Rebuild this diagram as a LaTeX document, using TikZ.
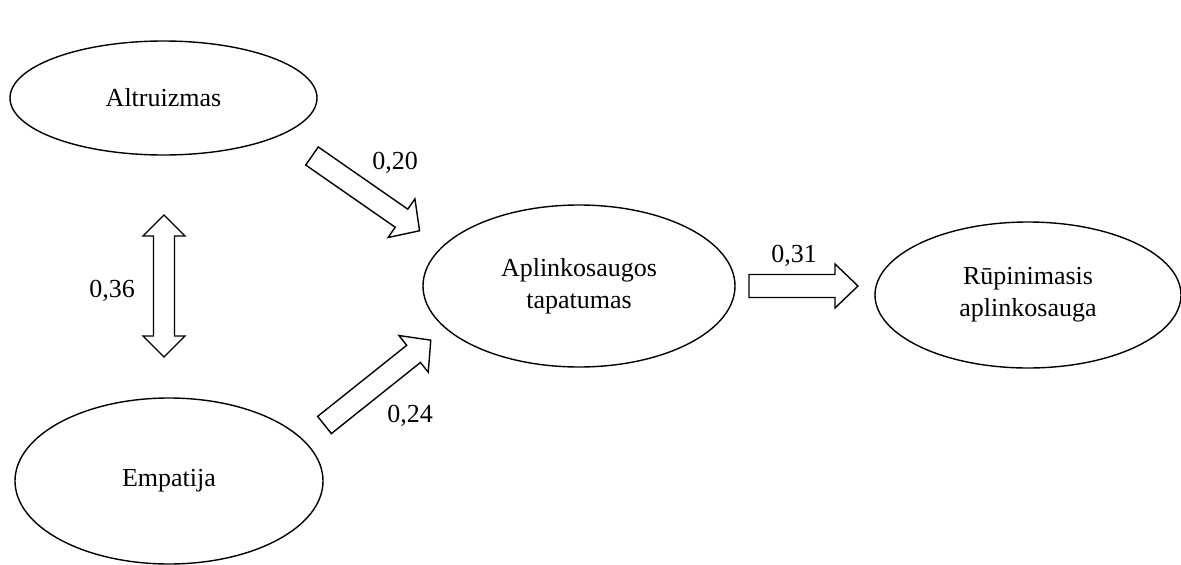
\documentclass[tikz,border=0pt]{standalone}
\usepackage{fontspec}
\setmainfont{Liberation Serif}
\usetikzlibrary{shapes.geometric}
\tikzset{
  ell/.style={draw, line width=1.4pt, ellipse, inner sep=0pt, align=center,
    font=\fontsize{26}{32}\selectfont},
  lbl/.style={inner sep=0pt, font=\fontsize{26}{31}\selectfont},
  arrowline/.style={draw, line width=1.4pt, fill=white, line join=miter},
  pics/fatarrow/.style args={#1/#2/#3/#4}{code={
    \path[arrowline] (0,-#2) -- ({#1-#4},-#2) -- ({#1-#4},-#3) -- (#1,0)
      -- ({#1-#4},#3) -- ({#1-#4},#2) -- (0,#2) -- cycle;}},
  pics/dblarrow/.style args={#1/#2/#3/#4}{code={
    \path[arrowline] (0,0) -- (#4,-#3) -- (#4,-#2) -- ({#1-#4},-#2) -- ({#1-#4},-#3)
      -- (#1,0) -- ({#1-#4},#3) -- ({#1-#4},#2) -- (#4,#2) -- (#4,#3) -- cycle;}}
}
\begin{document}
\begin{tikzpicture}[x=1pt,y=-1pt]
\useasboundingbox (0,0) rectangle (1181,565);
\node[ell, minimum width=307pt, minimum height=114pt] (altr) at (163.5,98) {Altruizmas};
\node[ell, minimum width=308pt, minimum height=166pt] (emp) at (169,481) {Empatija};
\node[ell, minimum width=312pt, minimum height=162pt] (apl) at (579,286) {Aplinkosaugos\\tapatumas};
\node[ell, minimum width=306pt, minimum height=146pt] (rup) at (1028,295) {Rūpinimasis\\aplinkosauga};
% arrows
\coordinate (a1) at (312,156);
\coordinate (a2) at (324.5,425);
\coordinate (a3) at (749,286);
\coordinate (a4) at (164,215);
\pic[rotate=-34.8] at (a1) {fatarrow={131/11/23.5/22}};
\pic[rotate=38.6] at (a2) {fatarrow={136/11/23.5/22}};
\pic at (a3) {fatarrow={109/11.5/22/23}};
\pic[rotate=-90] at (a4) {dblarrow={142/10.5/21/21}};
% labels
\node[lbl] (l1) at (395,163) {0,20};
\node[lbl] (l2) at (112,291) {0,36};
\node[lbl] (l3) at (410,416) {0,24};
\node[lbl] (l4) at (794,256) {0,31};
\end{tikzpicture}
\end{document}
